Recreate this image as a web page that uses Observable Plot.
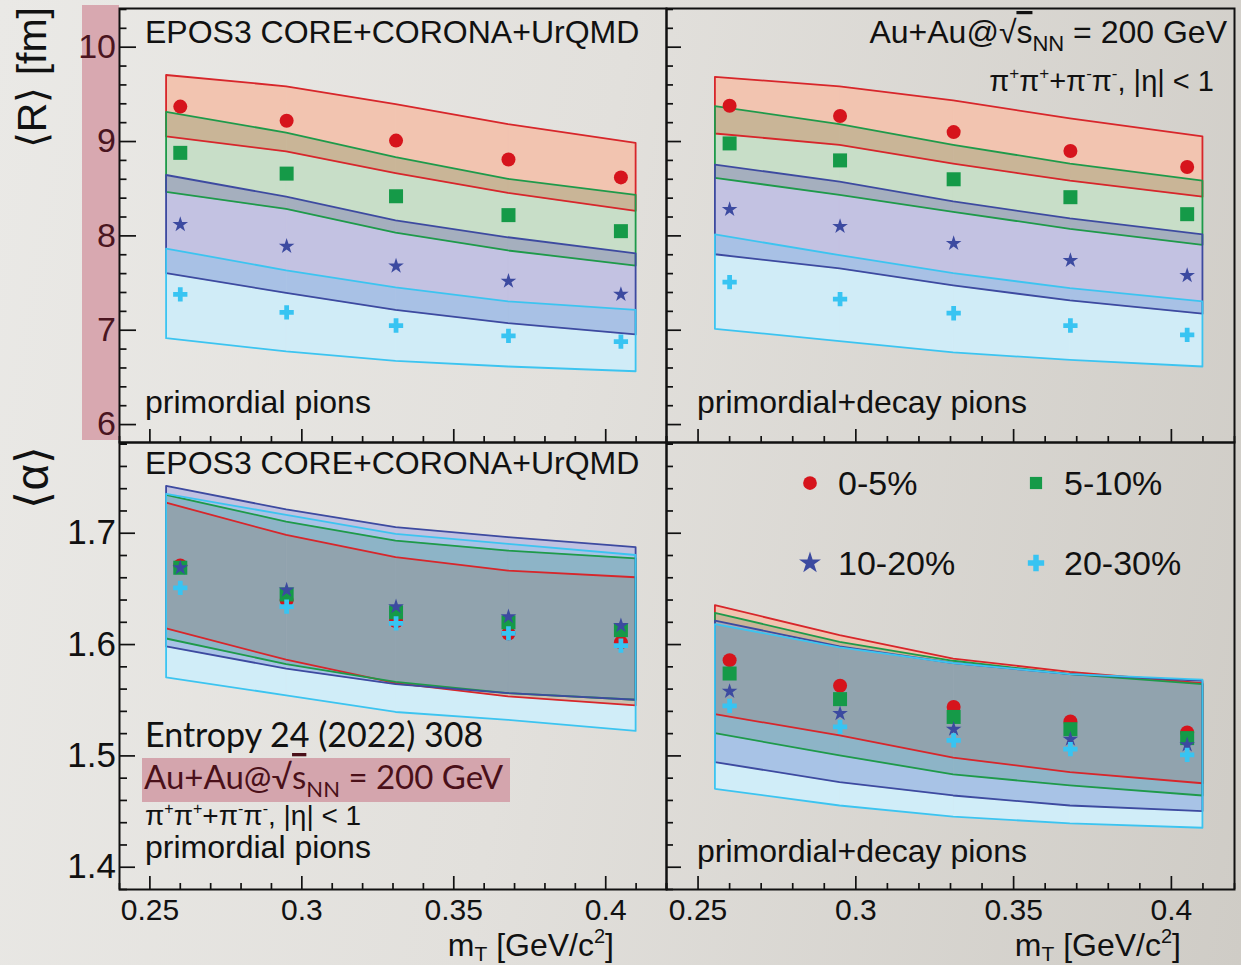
<!DOCTYPE html>
<html>
<head>
<meta charset="utf-8">
<script src="https://cdn.jsdelivr.net/npm/d3@7"></script>
<script src="https://cdn.jsdelivr.net/npm/@observablehq/plot@0.6"></script>
<style>
html, body { margin: 0; padding: 0; background: #d9d7d3; }
#page { position: relative; width: 1241px; height: 965px; overflow: hidden;
  background: linear-gradient(100deg, #eae9e6 0%, #e2e0dc 45%, #cfccc6 100%); }
.panel { position: absolute; }
.panel svg { overflow: visible; }
#pinkbar { position: absolute; left: 82px; top: 5px; width: 37px; height: 435px; background: #d8a8b0; }
#legend { position: absolute; left: 800px; top: 443px; width: 470px; }
#legend .lg-swatches { font-family: "Liberation Sans", Arial, sans-serif; font-size: 34px; color: #111; margin: 0; }
#legend .lg-swatch { width: 226px; height: 80px; margin: 0; }
#legend .lg-swatch > svg { margin-right: 18px; overflow: visible; }
#ann { position: absolute; left: 0; top: 0; pointer-events: none; overflow: visible; }
</style>
</head>
<body>
<div id="page">
  <div id="pinkbar"></div>
  <div id="tl" class="panel" style="left:0px;top:0px"></div>
  <div id="tr" class="panel" style="left:666px;top:0px"></div>
  <div id="bl" class="panel" style="left:0px;top:442px"></div>
  <div id="br" class="panel" style="left:666px;top:442px"></div>
  <div id="legend"></div>
  <svg id="ann" width="1241" height="965" style="font-family:'Liberation Sans', Arial, sans-serif" fill="#111">
    <text transform="translate(46,7) rotate(-90)" text-anchor="end" font-size="41">⟨R⟩ [fm]</text>
    <text transform="translate(48,446) rotate(-90)" text-anchor="end" font-size="46">⟨α⟩</text>
    <text x="145" y="43" font-size="32">EPOS3 CORE+CORONA+UrQMD</text>
    <text x="145" y="474" font-size="32">EPOS3 CORE+CORONA+UrQMD</text>
    <text x="145" y="413" font-size="32">primordial pions</text>
    <text x="697" y="413" font-size="32">primordial+decay pions</text>
    <text x="697" y="862" font-size="32">primordial+decay pions</text>
    <text x="1227" y="43" text-anchor="end" font-size="32">Au+Au@√<tspan text-decoration="overline">s</tspan><tspan dy="8" font-size="22">NN</tspan><tspan dy="-8"> = 200 GeV</tspan></text>
    <text x="1214" y="91" text-anchor="end" font-size="29">π<tspan dy="-12" font-size="17">+</tspan><tspan dy="12">π</tspan><tspan dy="-12" font-size="17">+</tspan><tspan dy="12">+π</tspan><tspan dy="-12" font-size="17">-</tspan><tspan dy="12">π</tspan><tspan dy="-12" font-size="17">-</tspan><tspan dy="12">, |η| &lt; 1</tspan></text>
    <text x="145" y="747" style="font-family:Lato, 'Open Sans', sans-serif" font-size="34">Entropy 24 (2022) 308</text>
    <rect x="142" y="758" width="368" height="44" fill="#d4a5ad"></rect>
    <text x="144" y="789" style="font-family:Lato, 'Open Sans', sans-serif" font-size="33" fill="#4a1019">Au+Au@√<tspan text-decoration="overline">s</tspan><tspan dy="8" font-size="22">NN</tspan><tspan dy="-8"> = 200 GeV</tspan></text>
    <text x="145" y="825" font-size="28">π<tspan dy="-11" font-size="16">+</tspan><tspan dy="11">π</tspan><tspan dy="-11" font-size="16">+</tspan><tspan dy="11">+π</tspan><tspan dy="-11" font-size="16">-</tspan><tspan dy="11">π</tspan><tspan dy="-11" font-size="16">-</tspan><tspan dy="11">, |η| &lt; 1</tspan></text>
    <text x="145" y="858" font-size="32">primordial pions</text>
    <text x="614" y="956" text-anchor="end" font-size="32">m<tspan dy="5" font-size="21">T</tspan><tspan dy="-5"> [GeV/c</tspan><tspan dy="-13" font-size="20">2</tspan><tspan dy="13">]</tspan></text>
    <text x="1181" y="956" text-anchor="end" font-size="32">m<tspan dy="5" font-size="21">T</tspan><tspan dy="-5"> [GeV/c</tspan><tspan dy="-13" font-size="20">2</tspan><tspan dy="13">]</tspan></text>
  </svg>
</div>
<script>
// ---------------- data ----------------
const series = ["0-5%", "5-10%", "10-20%", "20-30%"];
const bandKeys = ["R", "G", "B", "C"];
const mT = [0.26, 0.295, 0.331, 0.368, 0.405];          // data points m_T
const bandX = [0.2555, 0.295, 0.331, 0.368, 0.41];       // model band nodes

const xMajor = [0.25, 0.3, 0.35, 0.4];
const xMinor = [0.24, 0.26, 0.27, 0.28, 0.29, 0.31, 0.32, 0.33, 0.34, 0.36, 0.37, 0.38, 0.39, 0.41, 0.42];
const rMajor = [6, 7, 8, 9, 10];
const rMinor = [5.8, 6.2, 6.4, 6.6, 6.8, 7.2, 7.4, 7.6, 7.8, 8.2, 8.4, 8.6, 8.8, 9.2, 9.4, 9.6, 9.8, 10.2, 10.4];
const aMajor = [1.4, 1.5, 1.6, 1.7];
const aMinor = [1.38, 1.42, 1.44, 1.46, 1.48, 1.52, 1.54, 1.56, 1.58, 1.62, 1.64, 1.66, 1.68, 1.72, 1.74, 1.76, 1.78];

// <R>, primordial pions (top-left)
const rPrimPt05   = [9.37, 9.22, 9.01, 8.81, 8.62];
const rPrimPt510  = [8.88, 8.66, 8.42, 8.22, 8.05];
const rPrimPt1020 = [8.12, 7.89, 7.68, 7.52, 7.38];
const rPrimPt2030 = [7.38, 7.19, 7.05, 6.94, 6.88];
const rPrimHi05   = [9.70, 9.58, 9.39, 9.18, 8.98];
const rPrimLo05   = [9.05, 8.89, 8.66, 8.45, 8.26];
const rPrimHi510  = [9.31, 9.09, 8.83, 8.60, 8.43];
const rPrimLo510  = [8.46, 8.28, 8.03, 7.84, 7.68];
const rPrimHi1020 = [8.64, 8.41, 8.16, 7.98, 7.81];
const rPrimLo1020 = [7.60, 7.39, 7.21, 7.07, 6.95];
const rPrimHi2030 = [7.86, 7.63, 7.45, 7.30, 7.21];
const rPrimLo2030 = [6.91, 6.77, 6.67, 6.61, 6.56];

// <R>, primordial+decay pions (top-right)
const rAllPt05   = [9.38, 9.27, 9.10, 8.90, 8.73];
const rAllPt510  = [8.98, 8.80, 8.60, 8.41, 8.23];
const rAllPt1020 = [8.28, 8.10, 7.92, 7.74, 7.58];
const rAllPt2030 = [7.51, 7.33, 7.18, 7.05, 6.95];
const rAllHi05   = [9.68, 9.58, 9.43, 9.24, 9.05];
const rAllLo05   = [9.08, 8.96, 8.76, 8.58, 8.41];
const rAllHi510  = [9.37, 9.18, 8.96, 8.76, 8.58];
const rAllLo510  = [8.61, 8.43, 8.25, 8.07, 7.90];
const rAllHi1020 = [8.75, 8.57, 8.36, 8.18, 8.01];
const rAllLo1020 = [7.80, 7.65, 7.47, 7.31, 7.17];
const rAllHi2030 = [8.01, 7.79, 7.60, 7.44, 7.30];
const rAllLo2030 = [7.01, 6.88, 6.76, 6.68, 6.61];

// <alpha>, primordial pions (bottom-left)
const aPrimPt05   = [1.671, 1.640, 1.621, 1.610, 1.602];
const aPrimPt510  = [1.669, 1.645, 1.629, 1.620, 1.613];
const aPrimPt1020 = [1.669, 1.649, 1.634, 1.625, 1.617];
const aPrimPt2030 = [1.651, 1.634, 1.619, 1.610, 1.599];
const aPrimHi05   = [1.727, 1.698, 1.678, 1.666, 1.660];
const aPrimLo05   = [1.614, 1.586, 1.565, 1.553, 1.545];
const aPrimHi510  = [1.734, 1.710, 1.693, 1.684, 1.677];
const aPrimLo510  = [1.605, 1.582, 1.566, 1.556, 1.550];
const aPrimHi1020 = [1.742, 1.721, 1.705, 1.696, 1.687];
const aPrimLo1020 = [1.598, 1.578, 1.564, 1.556, 1.550];
const aPrimHi2030 = [1.735, 1.716, 1.699, 1.690, 1.680];
const aPrimLo2030 = [1.570, 1.554, 1.539, 1.532, 1.522];

// <alpha>, primordial+decay pions (bottom-right)
const aAllPt05   = [1.586, 1.563, 1.544, 1.531, 1.521];
const aAllPt510  = [1.574, 1.551, 1.535, 1.524, 1.516];
const aAllPt1020 = [1.558, 1.538, 1.524, 1.515, 1.510];
const aAllPt2030 = [1.545, 1.526, 1.514, 1.506, 1.501];
const aAllHi05   = [1.635, 1.608, 1.587, 1.575, 1.565];
const aAllLo05   = [1.537, 1.518, 1.498, 1.485, 1.475];
const aAllHi510  = [1.628, 1.602, 1.585, 1.573, 1.564];
const aAllLo510  = [1.520, 1.500, 1.483, 1.473, 1.464];
const aAllHi1020 = [1.621, 1.598, 1.583, 1.573, 1.567];
const aAllLo1020 = [1.494, 1.476, 1.464, 1.455, 1.450];
const aAllHi2030 = [1.618, 1.597, 1.583, 1.573, 1.568];
const aAllLo2030 = [1.470, 1.455, 1.445, 1.439, 1.435];

// ---------------- styles ----------------
const lineColors = ["#d7262b", "#1e9a4a", "#3d4aa0", "#3cc4f0"];
const pointColors = ["#d6141c", "#159a48", "#3c4aa0", "#38c4f2"];
const symbols = ["circle", "square", "star", "cross"];
const markerR = [7, 7.9, 4.9, 6];
const topColors = {R: "#f2c4b0", RG: "#c9b597", G: "#c8dec8", GB: "#a5afbe", B: "#c3c2e2", BC: "#a8c1e5", C: "#d0ecf7"};
const bottomColors = {R: "#f2c4b0", RG: "#c9b597", RGB: "#a9a9b4", G: "#c8dec8", GB: "#a5afbe", B: "#c1c2e1", BC: "#a8c3e6", GBC: "#8db4c7", RGBC: "#91a3ae", C: "#d0edf8"};
const paper = [248, 242, 250];

function mixColor(mask, table) {
  let c = paper.slice();
  for (const k of mask) {
    const s = d3.rgb(table[k] || topColors[k]);
    c = [c[0] * s.r / paper[0], c[1] * s.g / paper[1], c[2] * s.b / paper[2]];
  }
  return d3.rgb(c[0], c[1], c[2]).formatHex();
}

function decompose(bands, colorOf) {
  const out = [];
  let id = 0;
  for (let j = 0; j < bandX.length - 1; j++) {
    const lines = [];
    bands.forEach(b => { lines.push([b.lo[j], b.lo[j + 1]]); lines.push([b.hi[j], b.hi[j + 1]]); });
    lines.sort((a, b) => (a[0] + a[1]) - (b[0] + b[1]));
    for (let k = 0; k < lines.length - 1; k++) {
      const A = lines[k], B = lines[k + 1];
      if ((B[0] + B[1]) - (A[0] + A[1]) < 1e-9) continue;
      const mid = (A[0] + A[1] + B[0] + B[1]) / 4;
      let mask = "";
      bands.forEach(b => {
        const lo = (b.lo[j] + b.lo[j + 1]) / 2, hi = (b.hi[j] + b.hi[j + 1]) / 2;
        if (mid > lo && mid < hi) mask += b.key;
      });
      if (!mask) continue;
      const fill = colorOf(mask);
      out.push({id, x: bandX[j], y1: A[0], y2: B[0], fill});
      out.push({id, x: bandX[j + 1], y1: A[1], y2: B[1], fill});
      id++;
    }
  }
  return out;
}

function makePanel(cfg) {
  const bands = bandKeys.map((k, i) => ({key: k, lo: cfg.lo[i], hi: cfg.hi[i]}));
  const table = cfg.colors;
  const quads = decompose(bands, m => table[m] || mixColor(m, table));
  const marks = [];
  for (const [fill, rows] of d3.groups(quads, d => d.fill)) {
    marks.push(Plot.areaY(rows, {x: "x", y1: "y1", y2: "y2", z: "id", fill, stroke: fill, strokeWidth: 0.8}));
  }
  bands.forEach((b, i) => {
    const rows = bandX.map((x, j) => ({x, lo: b.lo[j], hi: b.hi[j]}));
    marks.push(Plot.areaY(rows, {x: "x", y1: "lo", y2: "hi", fill: "none", stroke: lineColors[i], strokeWidth: 1.8}));
  });
  series.forEach((s, i) => {
    const rows = mT.map((x, j) => ({x, y: cfg.pts[i][j], s}));
    marks.push(Plot.dot(rows, {x: "x", y: "y", fill: "s", symbol: "s", r: markerR[i]}));
  });
  const axisStyle = {stroke: "#111", strokeWidth: 1.7, label: null};
  marks.push(Plot.axisY({ticks: cfg.yMinor, anchor: "left", tickSize: -cfg.yMinorLen, fill: "none", tickFormat: () => "", ...axisStyle}));
  marks.push(Plot.axisY({ticks: cfg.yMajor, anchor: "left", tickSize: -cfg.yMajorLen, tickPadding: cfg.yMajorLen + 3.5,
    tickFormat: cfg.yLabels ? cfg.yFmt : () => "", fill: cfg.yLabelFill, fontSize: cfg.yFont, ...axisStyle}));
  marks.push(Plot.axisX({ticks: xMinor, anchor: "bottom", tickSize: -6, fill: "none", tickFormat: () => "", ...axisStyle}));
  marks.push(Plot.axisX({ticks: xMajor, anchor: "bottom", tickSize: -13, tickPadding: 22,
    tickFormat: cfg.xLabels ? (d => String(d)) : () => "", fill: "#111", fontSize: 30, ...axisStyle}));
  marks.push(Plot.frame({stroke: "#111", strokeWidth: 2}));
  return Plot.plot({
    width: cfg.width, height: cfg.height,
    marginLeft: cfg.ml, marginRight: cfg.mr, marginTop: cfg.mt, marginBottom: cfg.mb,
    x: {domain: [0.24, 0.42], label: null},
    y: {domain: cfg.yDomain, label: null},
    color: {domain: series, range: pointColors},
    symbol: {domain: series, range: symbols},
    style: {background: "transparent", fontFamily: "'Liberation Sans', Arial, sans-serif", overflow: "visible", color: "#111"},
    marks
  });
}

const tl = makePanel({
  pts: [rPrimPt05, rPrimPt510, rPrimPt1020, rPrimPt2030],
  hi: [rPrimHi05, rPrimHi510, rPrimHi1020, rPrimHi2030],
  lo: [rPrimLo05, rPrimLo510, rPrimLo1020, rPrimLo2030],
  colors: topColors, yDomain: [5.81, 10.41], yMajor: rMajor, yMinor: rMinor,
  yMajorLen: 17, yMinorLen: 7.5, yLabels: true, yFmt: d => String(d), yLabelFill: "#4a1520", yFont: 34,
  xLabels: false, width: 666, height: 442, ml: 119, mr: 0, mt: 8, mb: 0
});
const tr = makePanel({
  pts: [rAllPt05, rAllPt510, rAllPt1020, rAllPt2030],
  hi: [rAllHi05, rAllHi510, rAllHi1020, rAllHi2030],
  lo: [rAllLo05, rAllLo510, rAllLo1020, rAllLo2030],
  colors: topColors, yDomain: [5.81, 10.41], yMajor: rMajor, yMinor: rMinor,
  yMajorLen: 15, yMinorLen: 7, yLabels: false, yFont: 34, yLabelFill: "none",
  xLabels: false, width: 575, height: 442, ml: 0, mr: 7, mt: 8, mb: 0
});
const bl = makePanel({
  pts: [aPrimPt05, aPrimPt510, aPrimPt1020, aPrimPt2030],
  hi: [aPrimHi05, aPrimHi510, aPrimHi1020, aPrimHi2030],
  lo: [aPrimLo05, aPrimLo510, aPrimLo1020, aPrimLo2030],
  colors: bottomColors, yDomain: [1.38, 1.7815], yMajor: aMajor, yMinor: aMinor,
  yMajorLen: 16, yMinorLen: 8, yLabels: true, yFmt: d3.format(".1f"), yLabelFill: "#111", yFont: 35,
  xLabels: true, width: 666, height: 523, ml: 119, mr: 0, mt: 0, mb: 76
});
const br = makePanel({
  pts: [aAllPt05, aAllPt510, aAllPt1020, aAllPt2030],
  hi: [aAllHi05, aAllHi510, aAllHi1020, aAllHi2030],
  lo: [aAllLo05, aAllLo510, aAllLo1020, aAllLo2030],
  colors: bottomColors, yDomain: [1.38, 1.7815], yMajor: aMajor, yMinor: aMinor,
  yMajorLen: 15, yMinorLen: 7, yLabels: false, yFont: 35, yLabelFill: "none",
  xLabels: true, width: 575, height: 523, ml: 0, mr: 7, mt: 0, mb: 76
});
document.getElementById("tl").appendChild(tl);
document.getElementById("tr").appendChild(tr);
document.getElementById("bl").appendChild(bl);
document.getElementById("br").appendChild(br);

const lg = br.legend("symbol", {className: "lg", r: 5.5, swatchSize: 20});
if (lg) document.getElementById("legend").appendChild(lg);
</script>
</body>
</html>
